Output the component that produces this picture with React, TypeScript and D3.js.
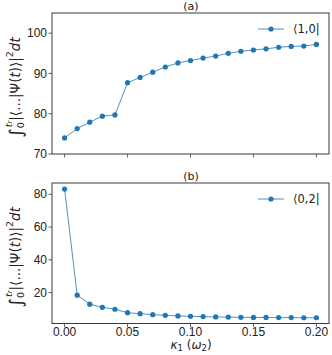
import React from "react";
import * as d3 from "d3";

const kappa = [0, 0.01, 0.02, 0.03, 0.04, 0.05, 0.06, 0.07, 0.08, 0.09, 0.1, 0.11, 0.12, 0.13, 0.14, 0.15, 0.16, 0.17, 0.18, 0.19, 0.2];
const seriesA = [74.0, 76.3, 77.9, 79.4, 79.7, 87.7, 89.0, 90.3, 91.6, 92.6, 93.2, 93.8, 94.3, 95.0, 95.5, 95.8, 96.1, 96.5, 96.7, 96.8, 97.2];
const seriesB = [83.2, 18.4, 12.9, 11.0, 9.8, 7.7, 7.1, 6.5, 6.1, 5.7, 5.5, 5.3, 5.1, 5.0, 4.9, 4.8, 4.8, 4.7, 4.7, 4.6, 4.6];
const xTicks = [0, 0.05, 0.1, 0.15, 0.2];
const yTicksA = [70, 80, 90, 100];
const yTicksB = [20, 40, 60, 80];
const legendA = "⟨1,0|";
const legendB = "⟨0,2|";

const COLOR = "#1f77b4";
const AX = "#3a3a3a";
const TICKFONT = "Liberation Sans, Arial, sans-serif";
const MATHFONT = "DejaVu Sans, sans-serif";

const left = 52, right = 329;
const x = d3.scaleLinear().domain([-0.01, 0.21]).range([left, right]);

function YLabel({ cx, cy }: { cx: number; cy: number }) {
  return (
    <text transform={`translate(${cx},${cy}) rotate(-90)`} textAnchor="middle" fontFamily={MATHFONT} fontSize={13.5} fill="#222" dominantBaseline="central">
      <tspan fontSize={18}>∫</tspan>
      <tspan fontSize={9.5} dy={5}>0</tspan>
      <tspan fontSize={9.5} fontStyle="italic" dy={-12.5} dx={-5}>t</tspan>
      <tspan fontSize={7} fontStyle="italic" dy={2}>r</tspan>
      <tspan dy={5.5}>|⟨...|Ψ(</tspan>
      <tspan fontStyle="italic">t</tspan>
      <tspan>)⟩|</tspan>
      <tspan fontSize={9.5} dy={-6}>2</tspan>
      <tspan fontStyle="italic" dy={6}>dt</tspan>
    </text>
  );
}

function Panel({ top, bottom, data, yDomain, yTicks, title, legend, showXLabels }: any) {
  const y = d3.scaleLinear().domain(yDomain).range([bottom, top]);
  const line = d3.line<number>().x((_, i) => x(kappa[i])).y((d) => y(d));
  const midY = (top + bottom) / 2;
  return (
    <g>
      <path d={line(data) || ""} fill="none" stroke={COLOR} strokeWidth={0.8} />
      {data.map((d: number, i: number) => (
        <circle key={i} cx={x(kappa[i])} cy={y(d)} r={2.6} fill={COLOR} />
      ))}
      <rect x={left} y={top} width={right - left} height={bottom - top} fill="none" stroke={AX} strokeWidth={1} />
      {xTicks.map((t) => (
        <g key={t}>
          <line x1={x(t)} x2={x(t)} y1={bottom} y2={bottom + 3.5} stroke={AX} strokeWidth={0.8} />
          {showXLabels && (
            <text x={x(t)} y={bottom + 12} textAnchor="middle" fontFamily={TICKFONT} fontSize={12} fill="#222">
              {t.toFixed(2)}
            </text>
          )}
        </g>
      ))}
      {yTicks.map((t: number) => (
        <g key={t}>
          <line x1={left - 3.5} x2={left} y1={y(t)} y2={y(t)} stroke={AX} strokeWidth={0.8} />
          <text x={left - 5} y={y(t) + 4.2} textAnchor="end" fontFamily={TICKFONT} fontSize={12} fill="#222">
            {t}
          </text>
        </g>
      ))}
      <text x={191} y={top - 3} textAnchor="middle" fontFamily={MATHFONT} fontSize={11} fill="#222">{title}</text>
      <line x1={258} x2={284} y1={top + 16} y2={top + 16} stroke={COLOR} strokeWidth={0.8} />
      <circle cx={271} cy={top + 16} r={2.6} fill={COLOR} />
      <text x={293} y={top + 20} fontFamily={MATHFONT} fontSize={11.5} fill="#222">{legend}</text>
      <YLabel cx={15} cy={midY + 4} />
    </g>
  );
}

export default function App() {
  return (
    <svg width={332} height={355} style={{ position: "absolute", left: 0, top: 0, background: "#fff" }}>
      <rect width={332} height={355} fill="#fff" />
      <Panel top={13} bottom={154} data={seriesA} yDomain={[70, 105]} yTicks={yTicksA} title="(a)" legend={legendA} showXLabels={false} />
      <Panel top={183} bottom={323.5} data={seriesB} yDomain={[1.1, 86.9]} yTicks={yTicksB} title="(b)" legend={legendB} showXLabels={true} />
      <text x={191} y={349} textAnchor="middle" fontFamily={MATHFONT} fontSize={12} fill="#222">
        <tspan fontStyle="italic">κ</tspan>
        <tspan fontSize={8.5} dy={2}>1</tspan>
        <tspan dy={-2}> (</tspan>
        <tspan fontStyle="italic">ω</tspan>
        <tspan fontSize={8.5} dy={2}>2</tspan>
        <tspan dy={-2}>)</tspan>
      </text>
    </svg>
  );
}
